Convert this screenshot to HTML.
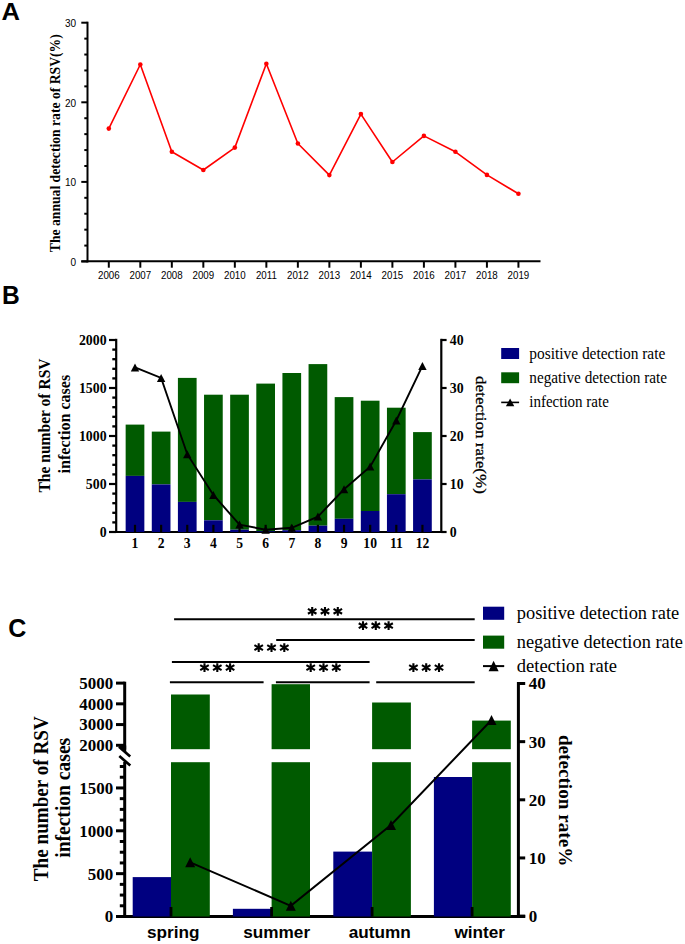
<!DOCTYPE html>
<html><head><meta charset="utf-8"><title>RSV detection figure</title>
<style>
html,body{margin:0;padding:0;background:#fff;}
body{width:685px;height:944px;overflow:hidden;font-family:"Liberation Sans",sans-serif;}
svg{display:block;}
</style></head>
<body>
<svg width="685" height="944" viewBox="0 0 685 944">
<rect width="685" height="944" fill="#fff"/>
<text transform="translate(1.4,19.6) scale(1.04,1)" font-family='"Liberation Sans", sans-serif' font-size="24.6" font-weight="bold" text-anchor="start" >A</text>
<line x1="87.5" y1="21.7" x2="87.5" y2="262.5" stroke="#000" stroke-width="2" stroke-linecap="butt"/>
<line x1="81.3" y1="261.3" x2="540.5" y2="261.3" stroke="#000" stroke-width="2" stroke-linecap="butt"/>
<line x1="81.3" y1="261.5" x2="87.5" y2="261.5" stroke="#000" stroke-width="2" stroke-linecap="butt"/>
<text transform="translate(76.2,265.8) scale(0.93,1)" font-family='"Liberation Sans", sans-serif' font-size="10.8" font-weight="normal" text-anchor="end" >0</text>
<line x1="84.3" y1="245.58" x2="87.5" y2="245.58" stroke="#000" stroke-width="2" stroke-linecap="butt"/>
<line x1="84.3" y1="229.66" x2="87.5" y2="229.66" stroke="#000" stroke-width="2" stroke-linecap="butt"/>
<line x1="84.3" y1="213.74" x2="87.5" y2="213.74" stroke="#000" stroke-width="2" stroke-linecap="butt"/>
<line x1="84.3" y1="197.82" x2="87.5" y2="197.82" stroke="#000" stroke-width="2" stroke-linecap="butt"/>
<line x1="81.3" y1="181.9" x2="87.5" y2="181.9" stroke="#000" stroke-width="2" stroke-linecap="butt"/>
<text transform="translate(76.2,186.2) scale(0.93,1)" font-family='"Liberation Sans", sans-serif' font-size="10.8" font-weight="normal" text-anchor="end" >10</text>
<line x1="84.3" y1="165.98" x2="87.5" y2="165.98" stroke="#000" stroke-width="2" stroke-linecap="butt"/>
<line x1="84.3" y1="150.06" x2="87.5" y2="150.06" stroke="#000" stroke-width="2" stroke-linecap="butt"/>
<line x1="84.3" y1="134.14" x2="87.5" y2="134.14" stroke="#000" stroke-width="2" stroke-linecap="butt"/>
<line x1="84.3" y1="118.22" x2="87.5" y2="118.22" stroke="#000" stroke-width="2" stroke-linecap="butt"/>
<line x1="81.3" y1="102.3" x2="87.5" y2="102.3" stroke="#000" stroke-width="2" stroke-linecap="butt"/>
<text transform="translate(76.2,106.6) scale(0.93,1)" font-family='"Liberation Sans", sans-serif' font-size="10.8" font-weight="normal" text-anchor="end" >20</text>
<line x1="84.3" y1="86.38" x2="87.5" y2="86.38" stroke="#000" stroke-width="2" stroke-linecap="butt"/>
<line x1="84.3" y1="70.46" x2="87.5" y2="70.46" stroke="#000" stroke-width="2" stroke-linecap="butt"/>
<line x1="84.3" y1="54.54" x2="87.5" y2="54.54" stroke="#000" stroke-width="2" stroke-linecap="butt"/>
<line x1="84.3" y1="38.62" x2="87.5" y2="38.62" stroke="#000" stroke-width="2" stroke-linecap="butt"/>
<line x1="81.3" y1="22.7" x2="87.5" y2="22.7" stroke="#000" stroke-width="2" stroke-linecap="butt"/>
<text transform="translate(76.2,27) scale(0.93,1)" font-family='"Liberation Sans", sans-serif' font-size="10.8" font-weight="normal" text-anchor="end" >30</text>
<line x1="108.8" y1="261" x2="108.8" y2="267.7" stroke="#000" stroke-width="2" stroke-linecap="butt"/>
<text transform="translate(108.8,278.9) scale(0.92,1)" font-family='"Liberation Sans", sans-serif' font-size="10.6" font-weight="normal" text-anchor="middle" >2006</text>
<line x1="140.31" y1="261" x2="140.31" y2="267.7" stroke="#000" stroke-width="2" stroke-linecap="butt"/>
<text transform="translate(140.31,278.9) scale(0.92,1)" font-family='"Liberation Sans", sans-serif' font-size="10.6" font-weight="normal" text-anchor="middle" >2007</text>
<line x1="171.82" y1="261" x2="171.82" y2="267.7" stroke="#000" stroke-width="2" stroke-linecap="butt"/>
<text transform="translate(171.82,278.9) scale(0.92,1)" font-family='"Liberation Sans", sans-serif' font-size="10.6" font-weight="normal" text-anchor="middle" >2008</text>
<line x1="203.33" y1="261" x2="203.33" y2="267.7" stroke="#000" stroke-width="2" stroke-linecap="butt"/>
<text transform="translate(203.33,278.9) scale(0.92,1)" font-family='"Liberation Sans", sans-serif' font-size="10.6" font-weight="normal" text-anchor="middle" >2009</text>
<line x1="234.84" y1="261" x2="234.84" y2="267.7" stroke="#000" stroke-width="2" stroke-linecap="butt"/>
<text transform="translate(234.84,278.9) scale(0.92,1)" font-family='"Liberation Sans", sans-serif' font-size="10.6" font-weight="normal" text-anchor="middle" >2010</text>
<line x1="266.35" y1="261" x2="266.35" y2="267.7" stroke="#000" stroke-width="2" stroke-linecap="butt"/>
<text transform="translate(266.35,278.9) scale(0.92,1)" font-family='"Liberation Sans", sans-serif' font-size="10.6" font-weight="normal" text-anchor="middle" >2011</text>
<line x1="297.86" y1="261" x2="297.86" y2="267.7" stroke="#000" stroke-width="2" stroke-linecap="butt"/>
<text transform="translate(297.86,278.9) scale(0.92,1)" font-family='"Liberation Sans", sans-serif' font-size="10.6" font-weight="normal" text-anchor="middle" >2012</text>
<line x1="329.37" y1="261" x2="329.37" y2="267.7" stroke="#000" stroke-width="2" stroke-linecap="butt"/>
<text transform="translate(329.37,278.9) scale(0.92,1)" font-family='"Liberation Sans", sans-serif' font-size="10.6" font-weight="normal" text-anchor="middle" >2013</text>
<line x1="360.88" y1="261" x2="360.88" y2="267.7" stroke="#000" stroke-width="2" stroke-linecap="butt"/>
<text transform="translate(360.88,278.9) scale(0.92,1)" font-family='"Liberation Sans", sans-serif' font-size="10.6" font-weight="normal" text-anchor="middle" >2014</text>
<line x1="392.39" y1="261" x2="392.39" y2="267.7" stroke="#000" stroke-width="2" stroke-linecap="butt"/>
<text transform="translate(392.39,278.9) scale(0.92,1)" font-family='"Liberation Sans", sans-serif' font-size="10.6" font-weight="normal" text-anchor="middle" >2015</text>
<line x1="423.9" y1="261" x2="423.9" y2="267.7" stroke="#000" stroke-width="2" stroke-linecap="butt"/>
<text transform="translate(423.9,278.9) scale(0.92,1)" font-family='"Liberation Sans", sans-serif' font-size="10.6" font-weight="normal" text-anchor="middle" >2016</text>
<line x1="455.41" y1="261" x2="455.41" y2="267.7" stroke="#000" stroke-width="2" stroke-linecap="butt"/>
<text transform="translate(455.41,278.9) scale(0.92,1)" font-family='"Liberation Sans", sans-serif' font-size="10.6" font-weight="normal" text-anchor="middle" >2017</text>
<line x1="486.92" y1="261" x2="486.92" y2="267.7" stroke="#000" stroke-width="2" stroke-linecap="butt"/>
<text transform="translate(486.92,278.9) scale(0.92,1)" font-family='"Liberation Sans", sans-serif' font-size="10.6" font-weight="normal" text-anchor="middle" >2018</text>
<line x1="518.43" y1="261" x2="518.43" y2="267.7" stroke="#000" stroke-width="2" stroke-linecap="butt"/>
<text transform="translate(518.43,278.9) scale(0.92,1)" font-family='"Liberation Sans", sans-serif' font-size="10.6" font-weight="normal" text-anchor="middle" >2019</text>
<polyline points="108.8,128.6 140.31,64.5 171.82,151.7 203.33,170 234.84,147.6 266.35,63.8 297.86,143.5 329.37,175.1 360.88,114.1 392.39,162 423.9,135.9 455.41,151.8 486.92,174.9 518.43,193.8" fill="none" stroke="#ff0000" stroke-width="1.6" stroke-linejoin="round"/>
<circle cx="108.8" cy="128.6" r="2.3" fill="#ff0000"/>
<circle cx="140.31" cy="64.5" r="2.3" fill="#ff0000"/>
<circle cx="171.82" cy="151.7" r="2.3" fill="#ff0000"/>
<circle cx="203.33" cy="170" r="2.3" fill="#ff0000"/>
<circle cx="234.84" cy="147.6" r="2.3" fill="#ff0000"/>
<circle cx="266.35" cy="63.8" r="2.3" fill="#ff0000"/>
<circle cx="297.86" cy="143.5" r="2.3" fill="#ff0000"/>
<circle cx="329.37" cy="175.1" r="2.3" fill="#ff0000"/>
<circle cx="360.88" cy="114.1" r="2.3" fill="#ff0000"/>
<circle cx="392.39" cy="162" r="2.3" fill="#ff0000"/>
<circle cx="423.9" cy="135.9" r="2.3" fill="#ff0000"/>
<circle cx="455.41" cy="151.8" r="2.3" fill="#ff0000"/>
<circle cx="486.92" cy="174.9" r="2.3" fill="#ff0000"/>
<circle cx="518.43" cy="193.8" r="2.3" fill="#ff0000"/>
<text transform="translate(60.2,252.2) rotate(-90)" font-family='"Liberation Serif", serif' font-size="14" font-weight="bold" textLength="218" lengthAdjust="spacingAndGlyphs">The annual detection rate of RSV(%)</text>
<text transform="translate(2,303.6) scale(0.96,1)" font-family='"Liberation Sans", sans-serif' font-size="25.6" font-weight="bold" text-anchor="start" >B</text>
<line x1="116.2" y1="338.8" x2="116.2" y2="533" stroke="#000" stroke-width="2.2" stroke-linecap="butt"/>
<line x1="441.3" y1="338.8" x2="441.3" y2="533" stroke="#000" stroke-width="2.2" stroke-linecap="butt"/>
<line x1="109" y1="532" x2="446" y2="532" stroke="#000" stroke-width="2.2" stroke-linecap="butt"/>
<line x1="109" y1="532" x2="116.2" y2="532" stroke="#000" stroke-width="2.2" stroke-linecap="butt"/>
<text transform="translate(106.6,537.3) scale(0.95,1)" font-family='"Liberation Serif", serif' font-size="14.6" font-weight="bold" text-anchor="end" >0</text>
<line x1="112.3" y1="522.4" x2="116.2" y2="522.4" stroke="#000" stroke-width="2.3" stroke-linecap="butt"/>
<line x1="112.3" y1="512.8" x2="116.2" y2="512.8" stroke="#000" stroke-width="2.3" stroke-linecap="butt"/>
<line x1="112.3" y1="503.2" x2="116.2" y2="503.2" stroke="#000" stroke-width="2.3" stroke-linecap="butt"/>
<line x1="112.3" y1="493.6" x2="116.2" y2="493.6" stroke="#000" stroke-width="2.3" stroke-linecap="butt"/>
<line x1="109" y1="484" x2="116.2" y2="484" stroke="#000" stroke-width="2.2" stroke-linecap="butt"/>
<text transform="translate(106.6,489.3) scale(0.95,1)" font-family='"Liberation Serif", serif' font-size="14.6" font-weight="bold" text-anchor="end" >500</text>
<line x1="112.3" y1="474.4" x2="116.2" y2="474.4" stroke="#000" stroke-width="2.3" stroke-linecap="butt"/>
<line x1="112.3" y1="464.8" x2="116.2" y2="464.8" stroke="#000" stroke-width="2.3" stroke-linecap="butt"/>
<line x1="112.3" y1="455.2" x2="116.2" y2="455.2" stroke="#000" stroke-width="2.3" stroke-linecap="butt"/>
<line x1="112.3" y1="445.6" x2="116.2" y2="445.6" stroke="#000" stroke-width="2.3" stroke-linecap="butt"/>
<line x1="109" y1="436" x2="116.2" y2="436" stroke="#000" stroke-width="2.2" stroke-linecap="butt"/>
<text transform="translate(106.6,441.3) scale(0.95,1)" font-family='"Liberation Serif", serif' font-size="14.6" font-weight="bold" text-anchor="end" >1000</text>
<line x1="112.3" y1="426.4" x2="116.2" y2="426.4" stroke="#000" stroke-width="2.3" stroke-linecap="butt"/>
<line x1="112.3" y1="416.8" x2="116.2" y2="416.8" stroke="#000" stroke-width="2.3" stroke-linecap="butt"/>
<line x1="112.3" y1="407.2" x2="116.2" y2="407.2" stroke="#000" stroke-width="2.3" stroke-linecap="butt"/>
<line x1="112.3" y1="397.6" x2="116.2" y2="397.6" stroke="#000" stroke-width="2.3" stroke-linecap="butt"/>
<line x1="109" y1="388" x2="116.2" y2="388" stroke="#000" stroke-width="2.2" stroke-linecap="butt"/>
<text transform="translate(106.6,393.3) scale(0.95,1)" font-family='"Liberation Serif", serif' font-size="14.6" font-weight="bold" text-anchor="end" >1500</text>
<line x1="112.3" y1="378.4" x2="116.2" y2="378.4" stroke="#000" stroke-width="2.3" stroke-linecap="butt"/>
<line x1="112.3" y1="368.8" x2="116.2" y2="368.8" stroke="#000" stroke-width="2.3" stroke-linecap="butt"/>
<line x1="112.3" y1="359.2" x2="116.2" y2="359.2" stroke="#000" stroke-width="2.3" stroke-linecap="butt"/>
<line x1="112.3" y1="349.6" x2="116.2" y2="349.6" stroke="#000" stroke-width="2.3" stroke-linecap="butt"/>
<line x1="109" y1="340" x2="116.2" y2="340" stroke="#000" stroke-width="2.2" stroke-linecap="butt"/>
<text transform="translate(106.6,345.3) scale(0.95,1)" font-family='"Liberation Serif", serif' font-size="14.6" font-weight="bold" text-anchor="end" >2000</text>
<line x1="441.3" y1="532" x2="446.6" y2="532" stroke="#000" stroke-width="2.2" stroke-linecap="butt"/>
<text transform="translate(449.8,537.3) scale(0.95,1)" font-family='"Liberation Serif", serif' font-size="14.6" font-weight="bold" text-anchor="start" >0</text>
<line x1="441.3" y1="484" x2="446.6" y2="484" stroke="#000" stroke-width="2.2" stroke-linecap="butt"/>
<text transform="translate(449.8,489.3) scale(0.95,1)" font-family='"Liberation Serif", serif' font-size="14.6" font-weight="bold" text-anchor="start" >10</text>
<line x1="441.3" y1="436" x2="446.6" y2="436" stroke="#000" stroke-width="2.2" stroke-linecap="butt"/>
<text transform="translate(449.8,441.3) scale(0.95,1)" font-family='"Liberation Serif", serif' font-size="14.6" font-weight="bold" text-anchor="start" >20</text>
<line x1="441.3" y1="388" x2="446.6" y2="388" stroke="#000" stroke-width="2.2" stroke-linecap="butt"/>
<text transform="translate(449.8,393.3) scale(0.95,1)" font-family='"Liberation Serif", serif' font-size="14.6" font-weight="bold" text-anchor="start" >30</text>
<line x1="441.3" y1="340" x2="446.6" y2="340" stroke="#000" stroke-width="2.2" stroke-linecap="butt"/>
<text transform="translate(449.8,345.3) scale(0.95,1)" font-family='"Liberation Serif", serif' font-size="14.6" font-weight="bold" text-anchor="start" >40</text>
<rect x="125.65" y="424.6" width="18.7" height="51.3" fill="#005a00"/>
<rect x="125.65" y="475.9" width="18.7" height="56.1" fill="#000080"/>
<rect x="151.78" y="431.6" width="18.7" height="52.8" fill="#005a00"/>
<rect x="151.78" y="484.4" width="18.7" height="47.6" fill="#000080"/>
<rect x="177.91" y="377.9" width="18.7" height="124" fill="#005a00"/>
<rect x="177.91" y="501.9" width="18.7" height="30.1" fill="#000080"/>
<rect x="204.04" y="394.7" width="18.7" height="125.6" fill="#005a00"/>
<rect x="204.04" y="520.3" width="18.7" height="11.7" fill="#000080"/>
<rect x="230.17" y="394.7" width="18.7" height="135" fill="#005a00"/>
<rect x="230.17" y="529.7" width="18.7" height="2.3" fill="#000080"/>
<rect x="256.3" y="383.6" width="18.7" height="147.7" fill="#005a00"/>
<rect x="256.3" y="531.3" width="18.7" height="0.7" fill="#000080"/>
<rect x="282.43" y="373" width="18.7" height="157.2" fill="#005a00"/>
<rect x="282.43" y="530.2" width="18.7" height="1.8" fill="#000080"/>
<rect x="308.56" y="364.1" width="18.7" height="161.6" fill="#005a00"/>
<rect x="308.56" y="525.7" width="18.7" height="6.3" fill="#000080"/>
<rect x="334.69" y="397.1" width="18.7" height="121.7" fill="#005a00"/>
<rect x="334.69" y="518.8" width="18.7" height="13.2" fill="#000080"/>
<rect x="360.82" y="400.7" width="18.7" height="110.3" fill="#005a00"/>
<rect x="360.82" y="511" width="18.7" height="21" fill="#000080"/>
<rect x="386.95" y="407.7" width="18.7" height="86.5" fill="#005a00"/>
<rect x="386.95" y="494.2" width="18.7" height="37.8" fill="#000080"/>
<rect x="413.08" y="432.1" width="18.7" height="47.3" fill="#005a00"/>
<rect x="413.08" y="479.4" width="18.7" height="52.6" fill="#000080"/>
<line x1="135" y1="524.8" x2="135" y2="532" stroke="#000" stroke-width="2.2" stroke-linecap="butt"/>
<text transform="translate(135,548) scale(1,1)" font-family='"Liberation Serif", serif' font-size="13.6" font-weight="bold" text-anchor="middle" >1</text>
<line x1="161.13" y1="524.8" x2="161.13" y2="532" stroke="#000" stroke-width="2.2" stroke-linecap="butt"/>
<text transform="translate(161.13,548) scale(1,1)" font-family='"Liberation Serif", serif' font-size="13.6" font-weight="bold" text-anchor="middle" >2</text>
<line x1="187.26" y1="524.8" x2="187.26" y2="532" stroke="#000" stroke-width="2.2" stroke-linecap="butt"/>
<text transform="translate(187.26,548) scale(1,1)" font-family='"Liberation Serif", serif' font-size="13.6" font-weight="bold" text-anchor="middle" >3</text>
<line x1="213.39" y1="524.8" x2="213.39" y2="532" stroke="#000" stroke-width="2.2" stroke-linecap="butt"/>
<text transform="translate(213.39,548) scale(1,1)" font-family='"Liberation Serif", serif' font-size="13.6" font-weight="bold" text-anchor="middle" >4</text>
<line x1="239.52" y1="524.8" x2="239.52" y2="532" stroke="#000" stroke-width="2.2" stroke-linecap="butt"/>
<text transform="translate(239.52,548) scale(1,1)" font-family='"Liberation Serif", serif' font-size="13.6" font-weight="bold" text-anchor="middle" >5</text>
<line x1="265.65" y1="524.8" x2="265.65" y2="532" stroke="#000" stroke-width="2.2" stroke-linecap="butt"/>
<text transform="translate(265.65,548) scale(1,1)" font-family='"Liberation Serif", serif' font-size="13.6" font-weight="bold" text-anchor="middle" >6</text>
<line x1="291.78" y1="524.8" x2="291.78" y2="532" stroke="#000" stroke-width="2.2" stroke-linecap="butt"/>
<text transform="translate(291.78,548) scale(1,1)" font-family='"Liberation Serif", serif' font-size="13.6" font-weight="bold" text-anchor="middle" >7</text>
<line x1="317.91" y1="524.8" x2="317.91" y2="532" stroke="#000" stroke-width="2.2" stroke-linecap="butt"/>
<text transform="translate(317.91,548) scale(1,1)" font-family='"Liberation Serif", serif' font-size="13.6" font-weight="bold" text-anchor="middle" >8</text>
<line x1="344.04" y1="524.8" x2="344.04" y2="532" stroke="#000" stroke-width="2.2" stroke-linecap="butt"/>
<text transform="translate(344.04,548) scale(1,1)" font-family='"Liberation Serif", serif' font-size="13.6" font-weight="bold" text-anchor="middle" >9</text>
<line x1="370.17" y1="524.8" x2="370.17" y2="532" stroke="#000" stroke-width="2.2" stroke-linecap="butt"/>
<text transform="translate(370.17,548) scale(1,1)" font-family='"Liberation Serif", serif' font-size="13.6" font-weight="bold" text-anchor="middle" >10</text>
<line x1="396.3" y1="524.8" x2="396.3" y2="532" stroke="#000" stroke-width="2.2" stroke-linecap="butt"/>
<text transform="translate(396.3,548) scale(1,1)" font-family='"Liberation Serif", serif' font-size="13.6" font-weight="bold" text-anchor="middle" >11</text>
<line x1="422.43" y1="524.8" x2="422.43" y2="532" stroke="#000" stroke-width="2.2" stroke-linecap="butt"/>
<text transform="translate(422.43,548) scale(1,1)" font-family='"Liberation Serif", serif' font-size="13.6" font-weight="bold" text-anchor="middle" >12</text>
<path d="M135 367.4C135 367.4 161.13 377.9 161.13 377.9C161.13 377.9 187.26 454.2 187.26 454.2C187.26 454.2 213.39 495 213.39 495C213.39 495 239.52 524.6 239.52 524.6C239.52 524.6 265.65 529.7 265.65 529.7C265.65 529.7 291.78 527.8 291.78 527.8C291.78 527.8 317.91 516.6 317.91 516.6C317.91 516.6 344.04 489.3 344.04 489.3C344.04 489.3 370.17 466.6 370.17 466.6C370.17 466.6 396.3 420.5 396.3 420.5C396.3 420.5 422.43 365.9 422.43 365.9" fill="none" stroke="#000" stroke-width="1.9"/>
<path d="M135 363.4L130.8 371.4L139.2 371.4Z" fill="#000"/>
<path d="M161.13 373.9L156.93 381.9L165.33 381.9Z" fill="#000"/>
<path d="M187.26 450.2L183.06 458.2L191.46 458.2Z" fill="#000"/>
<path d="M213.39 491L209.19 499L217.59 499Z" fill="#000"/>
<path d="M239.52 520.6L235.32 528.6L243.72 528.6Z" fill="#000"/>
<path d="M265.65 525.7L261.45 533.7L269.85 533.7Z" fill="#000"/>
<path d="M291.78 523.8L287.58 531.8L295.98 531.8Z" fill="#000"/>
<path d="M317.91 512.6L313.71 520.6L322.11 520.6Z" fill="#000"/>
<path d="M344.04 485.3L339.84 493.3L348.24 493.3Z" fill="#000"/>
<path d="M370.17 462.6L365.97 470.6L374.37 470.6Z" fill="#000"/>
<path d="M396.3 416.5L392.1 424.5L400.5 424.5Z" fill="#000"/>
<path d="M422.43 361.9L418.23 369.9L426.63 369.9Z" fill="#000"/>
<rect x="501.2" y="348" width="17.9" height="11" fill="#000080"/>
<rect x="501.2" y="372.3" width="17.9" height="10.9" fill="#005a00"/>
<line x1="501.2" y1="402.4" x2="519.1" y2="402.4" stroke="#000" stroke-width="1.6" stroke-linecap="butt"/>
<path d="M510.1 398.5L505.9 406.3L514.3 406.3Z" fill="#000"/>
<text x="529.3" y="359" font-family='"Liberation Serif", serif' font-size="16" font-weight="normal" text-anchor="start" textLength="136" lengthAdjust="spacingAndGlyphs">positive detection rate</text>
<text x="529.3" y="383" font-family='"Liberation Serif", serif' font-size="16" font-weight="normal" text-anchor="start" textLength="137.7" lengthAdjust="spacingAndGlyphs">negative detection rate</text>
<text x="529.3" y="407" font-family='"Liberation Serif", serif' font-size="16" font-weight="normal" text-anchor="start" textLength="79.5" lengthAdjust="spacingAndGlyphs">infection rate</text>
<text transform="translate(49.9,425.5) rotate(-90)" font-family='"Liberation Serif", serif' font-size="16" font-weight="bold" text-anchor="middle" textLength="134" lengthAdjust="spacingAndGlyphs">The number of RSV</text>
<text transform="translate(70,424.1) rotate(-90)" font-family='"Liberation Serif", serif' font-size="16" font-weight="bold" text-anchor="middle" textLength="98.6" lengthAdjust="spacingAndGlyphs">infection cases</text>
<text transform="translate(476,376.1) rotate(90)" font-family='"Liberation Serif", serif' font-size="15.2" font-weight="normal" stroke="#000" stroke-width="0.3" textLength="117.8" lengthAdjust="spacingAndGlyphs">detection rate(%)</text>
<text transform="translate(8.3,636.9) scale(1,1)" font-family='"Liberation Sans", sans-serif' font-size="25" font-weight="bold" text-anchor="start" >C</text>
<line x1="124.7" y1="681.7" x2="124.7" y2="749.6" stroke="#000" stroke-width="3" stroke-linecap="butt"/>
<line x1="124.7" y1="762" x2="124.7" y2="917.8" stroke="#000" stroke-width="3" stroke-linecap="butt"/>
<line x1="518.4" y1="682" x2="518.4" y2="917.8" stroke="#000" stroke-width="3" stroke-linecap="butt"/>
<line x1="116" y1="916.5" x2="525.2" y2="916.5" stroke="#000" stroke-width="3" stroke-linecap="butt"/>
<line x1="116" y1="745.3" x2="124.7" y2="745.3" stroke="#000" stroke-width="3" stroke-linecap="butt"/>
<text transform="translate(113.2,751.2) scale(0.98,1)" font-family='"Liberation Serif", serif' font-size="17.3" font-weight="bold" text-anchor="end" >2000</text>
<line x1="116" y1="724.57" x2="124.7" y2="724.57" stroke="#000" stroke-width="3" stroke-linecap="butt"/>
<text transform="translate(113.2,730.47) scale(0.98,1)" font-family='"Liberation Serif", serif' font-size="17.3" font-weight="bold" text-anchor="end" >3000</text>
<line x1="116" y1="703.84" x2="124.7" y2="703.84" stroke="#000" stroke-width="3" stroke-linecap="butt"/>
<text transform="translate(113.2,709.74) scale(0.98,1)" font-family='"Liberation Serif", serif' font-size="17.3" font-weight="bold" text-anchor="end" >4000</text>
<line x1="116" y1="683.11" x2="124.7" y2="683.11" stroke="#000" stroke-width="3" stroke-linecap="butt"/>
<text transform="translate(113.2,689.01) scale(0.98,1)" font-family='"Liberation Serif", serif' font-size="17.3" font-weight="bold" text-anchor="end" >5000</text>
<line x1="116" y1="916.5" x2="124.7" y2="916.5" stroke="#000" stroke-width="3" stroke-linecap="butt"/>
<text transform="translate(113.2,922.4) scale(0.98,1)" font-family='"Liberation Serif", serif' font-size="17.3" font-weight="bold" text-anchor="end" >0</text>
<line x1="119.8" y1="905.79" x2="124.7" y2="905.79" stroke="#000" stroke-width="3" stroke-linecap="butt"/>
<line x1="119.8" y1="895.08" x2="124.7" y2="895.08" stroke="#000" stroke-width="3" stroke-linecap="butt"/>
<line x1="119.8" y1="884.36" x2="124.7" y2="884.36" stroke="#000" stroke-width="3" stroke-linecap="butt"/>
<line x1="116" y1="873.65" x2="124.7" y2="873.65" stroke="#000" stroke-width="3" stroke-linecap="butt"/>
<text transform="translate(113.2,879.55) scale(0.98,1)" font-family='"Liberation Serif", serif' font-size="17.3" font-weight="bold" text-anchor="end" >500</text>
<line x1="119.8" y1="862.94" x2="124.7" y2="862.94" stroke="#000" stroke-width="3" stroke-linecap="butt"/>
<line x1="119.8" y1="852.23" x2="124.7" y2="852.23" stroke="#000" stroke-width="3" stroke-linecap="butt"/>
<line x1="119.8" y1="841.51" x2="124.7" y2="841.51" stroke="#000" stroke-width="3" stroke-linecap="butt"/>
<line x1="116" y1="830.8" x2="124.7" y2="830.8" stroke="#000" stroke-width="3" stroke-linecap="butt"/>
<text transform="translate(113.2,836.7) scale(0.98,1)" font-family='"Liberation Serif", serif' font-size="17.3" font-weight="bold" text-anchor="end" >1000</text>
<line x1="119.8" y1="820.09" x2="124.7" y2="820.09" stroke="#000" stroke-width="3" stroke-linecap="butt"/>
<line x1="119.8" y1="809.38" x2="124.7" y2="809.38" stroke="#000" stroke-width="3" stroke-linecap="butt"/>
<line x1="119.8" y1="798.66" x2="124.7" y2="798.66" stroke="#000" stroke-width="3" stroke-linecap="butt"/>
<line x1="116" y1="787.95" x2="124.7" y2="787.95" stroke="#000" stroke-width="3" stroke-linecap="butt"/>
<text transform="translate(113.2,793.85) scale(0.98,1)" font-family='"Liberation Serif", serif' font-size="17.3" font-weight="bold" text-anchor="end" >1500</text>
<line x1="119.8" y1="777.24" x2="124.7" y2="777.24" stroke="#000" stroke-width="3" stroke-linecap="butt"/>
<line x1="119.8" y1="766.52" x2="124.7" y2="766.52" stroke="#000" stroke-width="3" stroke-linecap="butt"/>
<line x1="119" y1="746.8" x2="130.2" y2="756.6" stroke="#000" stroke-width="2.7" stroke-linecap="butt"/>
<path d="M118.6 745.6L126.2 745.6L126.2 753.2Z" fill="#000"/>
<line x1="119.3" y1="756" x2="130.3" y2="765.6" stroke="#000" stroke-width="2.7" stroke-linecap="butt"/>
<line x1="518.4" y1="916.1" x2="525.2" y2="916.1" stroke="#000" stroke-width="3" stroke-linecap="butt"/>
<text transform="translate(528.8,922) scale(0.98,1)" font-family='"Liberation Serif", serif' font-size="17.3" font-weight="bold" text-anchor="start" >0</text>
<line x1="518.4" y1="857.95" x2="525.2" y2="857.95" stroke="#000" stroke-width="3" stroke-linecap="butt"/>
<text transform="translate(528.8,863.85) scale(0.98,1)" font-family='"Liberation Serif", serif' font-size="17.3" font-weight="bold" text-anchor="start" >10</text>
<line x1="518.4" y1="799.8" x2="525.2" y2="799.8" stroke="#000" stroke-width="3" stroke-linecap="butt"/>
<text transform="translate(528.8,805.7) scale(0.98,1)" font-family='"Liberation Serif", serif' font-size="17.3" font-weight="bold" text-anchor="start" >20</text>
<line x1="518.4" y1="741.65" x2="525.2" y2="741.65" stroke="#000" stroke-width="3" stroke-linecap="butt"/>
<text transform="translate(528.8,747.55) scale(0.98,1)" font-family='"Liberation Serif", serif' font-size="17.3" font-weight="bold" text-anchor="start" >30</text>
<line x1="518.4" y1="683.5" x2="525.2" y2="683.5" stroke="#000" stroke-width="3" stroke-linecap="butt"/>
<text transform="translate(528.8,689.4) scale(0.98,1)" font-family='"Liberation Serif", serif' font-size="17.3" font-weight="bold" text-anchor="start" >40</text>
<rect x="132.7" y="877.1" width="38.3" height="39.4" fill="#000080"/>
<rect x="171" y="694.5" width="38.8" height="54.7" fill="#005a00"/>
<rect x="171" y="762.2" width="38.8" height="154.3" fill="#005a00"/>
<line x1="171" y1="907" x2="171" y2="916.5" stroke="#000" stroke-width="2.8" stroke-linecap="butt"/>
<rect x="232.9" y="908.8" width="38.7" height="7.7" fill="#000080"/>
<rect x="271.6" y="684.2" width="38.4" height="65" fill="#005a00"/>
<rect x="271.6" y="762.2" width="38.4" height="154.3" fill="#005a00"/>
<line x1="271.6" y1="907" x2="271.6" y2="916.5" stroke="#000" stroke-width="2.8" stroke-linecap="butt"/>
<rect x="333.3" y="851.6" width="38.8" height="64.9" fill="#000080"/>
<rect x="372.1" y="702.5" width="38.8" height="46.7" fill="#005a00"/>
<rect x="372.1" y="762.2" width="38.8" height="154.3" fill="#005a00"/>
<line x1="372.1" y1="907" x2="372.1" y2="916.5" stroke="#000" stroke-width="2.8" stroke-linecap="butt"/>
<rect x="433.9" y="777" width="38.2" height="139.5" fill="#000080"/>
<rect x="472.1" y="720.6" width="38.7" height="28.6" fill="#005a00"/>
<rect x="472.1" y="762.2" width="38.7" height="154.3" fill="#005a00"/>
<line x1="472.1" y1="907" x2="472.1" y2="916.5" stroke="#000" stroke-width="2.8" stroke-linecap="butt"/>
<text x="173.3" y="938.2" font-family='"Liberation Sans", sans-serif' font-size="17.2" font-weight="bold" text-anchor="middle" >spring</text>
<text x="276.7" y="938.2" font-family='"Liberation Sans", sans-serif' font-size="17.2" font-weight="bold" text-anchor="middle" >summer</text>
<text x="379.8" y="938.2" font-family='"Liberation Sans", sans-serif' font-size="17.2" font-weight="bold" text-anchor="middle" >autumn</text>
<text x="479.7" y="938.2" font-family='"Liberation Sans", sans-serif' font-size="17.2" font-weight="bold" text-anchor="middle" >winter</text>
<polyline points="190.2,862.3 290.8,905.8 391,825 491.5,720" fill="none" stroke="#000" stroke-width="2"/>
<path d="M190.2 857.35L185.2 867.25L195.2 867.25Z" fill="#000"/>
<path d="M290.8 900.85L285.8 910.75L295.8 910.75Z" fill="#000"/>
<path d="M391 820.05L386 829.95L396 829.95Z" fill="#000"/>
<path d="M491.5 715.05L486.5 724.95L496.5 724.95Z" fill="#000"/>
<line x1="174.1" y1="619.2" x2="474.7" y2="619.2" stroke="#000" stroke-width="2" stroke-linecap="butt"/>
<line x1="276.2" y1="640" x2="474.7" y2="640" stroke="#000" stroke-width="2" stroke-linecap="butt"/>
<line x1="171.9" y1="662.1" x2="369.6" y2="662.1" stroke="#000" stroke-width="2" stroke-linecap="butt"/>
<line x1="169.9" y1="682.2" x2="263.6" y2="682.2" stroke="#000" stroke-width="2" stroke-linecap="butt"/>
<line x1="275.9" y1="682.2" x2="369.6" y2="682.2" stroke="#000" stroke-width="2" stroke-linecap="butt"/>
<line x1="376.2" y1="682.2" x2="474.7" y2="682.2" stroke="#000" stroke-width="2" stroke-linecap="butt"/>
<path d="M312.2 606.9L312.2 615.7M307.93 608.84L316.47 613.76M316.47 608.84L307.93 613.76" stroke="#000" stroke-width="2.1" stroke-linecap="butt" fill="none"/>
<path d="M325 606.9L325 615.7M320.73 608.84L329.27 613.76M329.27 608.84L320.73 613.76" stroke="#000" stroke-width="2.1" stroke-linecap="butt" fill="none"/>
<path d="M337.8 606.9L337.8 615.7M333.53 608.84L342.07 613.76M342.07 608.84L333.53 613.76" stroke="#000" stroke-width="2.1" stroke-linecap="butt" fill="none"/>
<path d="M363 621.3L363 630.1M358.73 623.24L367.27 628.16M367.27 623.24L358.73 628.16" stroke="#000" stroke-width="2.1" stroke-linecap="butt" fill="none"/>
<path d="M375.8 621.3L375.8 630.1M371.53 623.24L380.07 628.16M380.07 623.24L371.53 628.16" stroke="#000" stroke-width="2.1" stroke-linecap="butt" fill="none"/>
<path d="M388.6 621.3L388.6 630.1M384.33 623.24L392.87 628.16M392.87 623.24L384.33 628.16" stroke="#000" stroke-width="2.1" stroke-linecap="butt" fill="none"/>
<path d="M258.7 643.2L258.7 652M254.43 645.14L262.97 650.06M262.97 645.14L254.43 650.06" stroke="#000" stroke-width="2.1" stroke-linecap="butt" fill="none"/>
<path d="M271.5 643.2L271.5 652M267.23 645.14L275.77 650.06M275.77 645.14L267.23 650.06" stroke="#000" stroke-width="2.1" stroke-linecap="butt" fill="none"/>
<path d="M284.3 643.2L284.3 652M280.03 645.14L288.57 650.06M288.57 645.14L280.03 650.06" stroke="#000" stroke-width="2.1" stroke-linecap="butt" fill="none"/>
<path d="M204.5 663.2L204.5 672M200.23 665.14L208.77 670.06M208.77 665.14L200.23 670.06" stroke="#000" stroke-width="2.1" stroke-linecap="butt" fill="none"/>
<path d="M217.3 663.2L217.3 672M213.03 665.14L221.57 670.06M221.57 665.14L213.03 670.06" stroke="#000" stroke-width="2.1" stroke-linecap="butt" fill="none"/>
<path d="M230.1 663.2L230.1 672M225.83 665.14L234.37 670.06M234.37 665.14L225.83 670.06" stroke="#000" stroke-width="2.1" stroke-linecap="butt" fill="none"/>
<path d="M310.7 663.2L310.7 672M306.43 665.14L314.97 670.06M314.97 665.14L306.43 670.06" stroke="#000" stroke-width="2.1" stroke-linecap="butt" fill="none"/>
<path d="M323.5 663.2L323.5 672M319.23 665.14L327.77 670.06M327.77 665.14L319.23 670.06" stroke="#000" stroke-width="2.1" stroke-linecap="butt" fill="none"/>
<path d="M336.3 663.2L336.3 672M332.03 665.14L340.57 670.06M340.57 665.14L332.03 670.06" stroke="#000" stroke-width="2.1" stroke-linecap="butt" fill="none"/>
<path d="M413.4 663.2L413.4 672M409.13 665.14L417.67 670.06M417.67 665.14L409.13 670.06" stroke="#000" stroke-width="2.1" stroke-linecap="butt" fill="none"/>
<path d="M426.2 663.2L426.2 672M421.93 665.14L430.47 670.06M430.47 665.14L421.93 670.06" stroke="#000" stroke-width="2.1" stroke-linecap="butt" fill="none"/>
<path d="M439 663.2L439 672M434.73 665.14L443.27 670.06M443.27 665.14L434.73 670.06" stroke="#000" stroke-width="2.1" stroke-linecap="butt" fill="none"/>
<rect x="483" y="606.7" width="21.2" height="13.1" fill="#000080"/>
<rect x="483" y="635.6" width="21.2" height="13.1" fill="#005a00"/>
<line x1="483" y1="666.1" x2="504.2" y2="666.1" stroke="#000" stroke-width="2" stroke-linecap="butt"/>
<path d="M493.6 660.7L488.6 671.3L498.6 671.3Z" fill="#000"/>
<text x="516.8" y="619.2" font-family='"Liberation Serif", serif' font-size="18.4" font-weight="normal" text-anchor="start" textLength="162.4" lengthAdjust="spacingAndGlyphs">positive detection rate</text>
<text x="516.8" y="648.4" font-family='"Liberation Serif", serif' font-size="18.4" font-weight="normal" text-anchor="start" textLength="166.1" lengthAdjust="spacingAndGlyphs">negative detection rate</text>
<text x="516.8" y="671.8" font-family='"Liberation Serif", serif' font-size="18.4" font-weight="normal" text-anchor="start" textLength="100.2" lengthAdjust="spacingAndGlyphs">detection rate</text>
<text transform="translate(47.5,798.7) rotate(-90)" font-family='"Liberation Serif", serif' font-size="20.5" font-weight="bold" text-anchor="middle" textLength="164.9" lengthAdjust="spacingAndGlyphs">The number of RSV</text>
<text transform="translate(69.9,797.8) rotate(-90)" font-family='"Liberation Serif", serif' font-size="20.5" font-weight="bold" text-anchor="middle" textLength="120" lengthAdjust="spacingAndGlyphs">infection cases</text>
<text transform="translate(558.5,734.9) rotate(90)" font-family='"Liberation Serif", serif' font-size="19.8" font-weight="bold" textLength="131.4" lengthAdjust="spacingAndGlyphs">detection rate%</text>
</svg>
</body></html>
